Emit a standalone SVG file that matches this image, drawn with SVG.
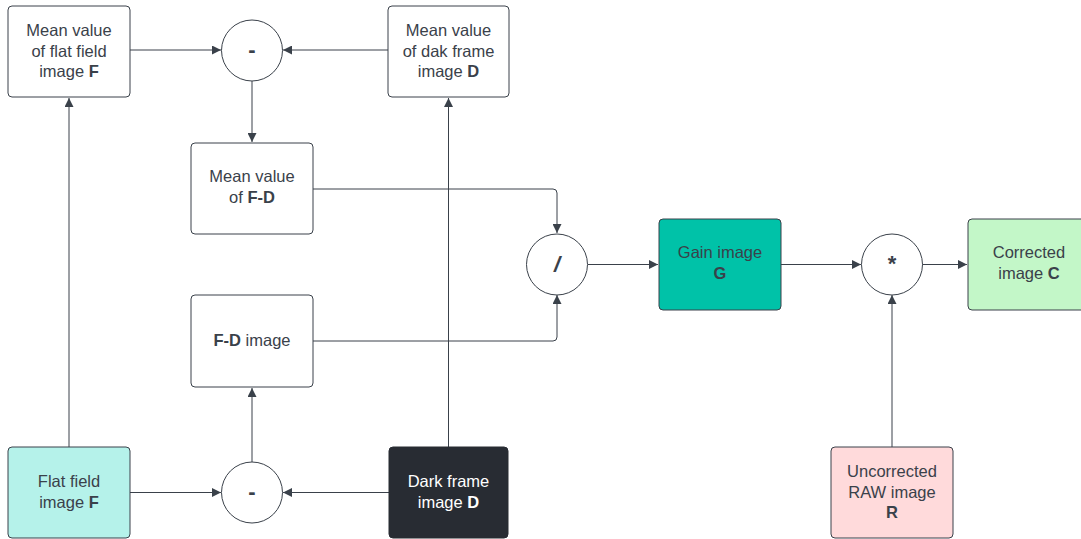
<svg xmlns="http://www.w3.org/2000/svg" width="1081" height="539" viewBox="0 0 1081 539">
<style>
.box{stroke:#3a414a;stroke-width:1;fill:#ffffff}
.op{stroke:#3a414a;stroke-width:1;fill:#ffffff}
.t{font-family:"Liberation Sans",Arial,sans-serif;font-size:16.5px;fill:#3a414a;text-anchor:middle}
.w{fill:#ffffff}
.b{font-weight:bold}
.sym{font-family:"Liberation Sans",Arial,sans-serif;font-size:22px;font-weight:bold;fill:#3a414a;text-anchor:middle}
.c{stroke:#3a414a;stroke-width:1;fill:none;marker-end:url(#ah)}
</style>
<defs>
<marker id="ah" markerUnits="userSpaceOnUse" markerWidth="10" markerHeight="9" refX="9" refY="4.5" orient="auto">
<path d="M0,0 L9,4.5 L0,9 z" fill="#3a414a"/>
</marker>
</defs>
<rect width="1081" height="539" fill="#ffffff"/>
<g id="connectors">
<path class="c" d="M130,50 H221"/>
<path class="c" d="M388,50 H283"/>
<path class="c" d="M252,81 V142"/>
<path class="c" d="M313,189 H553 Q557,189 557,193 V233"/>
<path class="c" d="M313,341 H553 Q557,341 557,337 V295"/>
<path class="c" d="M588,264.5 H658"/>
<path class="c" d="M781,264.5 H861"/>
<path class="c" d="M922,264.5 H967"/>
<path class="c" d="M892,447 V295"/>
<path class="c" d="M69,447 V98"/>
<path class="c" d="M448.5,447 V98"/>
<path class="c" d="M130,492.5 H221"/>
<path class="c" d="M389,492.5 H283"/>
<path class="c" d="M252,462 V388"/>
</g>
<g id="mean-flat">
<rect class="box" x="8" y="6" width="122" height="91" rx="4"/>
<text class="t" x="69" y="36">Mean value</text>
<text class="t" x="69" y="56.5">of flat field</text>
<text class="t" x="69" y="77">image <tspan class="b">F</tspan></text>
</g>
<g id="minus-top">
<circle class="op" cx="252" cy="50.5" r="30.5"/>
<text class="sym" x="252" y="57">-</text>
</g>
<g id="mean-dark">
<rect class="box" x="388" y="6" width="121" height="91" rx="4"/>
<text class="t" x="448.5" y="36">Mean value</text>
<text class="t" x="448.5" y="56.5">of dak frame</text>
<text class="t" x="448.5" y="77">image <tspan class="b">D</tspan></text>
</g>
<g id="mean-fd">
<rect class="box" x="191" y="143" width="122" height="91" rx="4"/>
<text class="t" x="252" y="182">Mean value</text>
<text class="t" x="252" y="202.5">of <tspan class="b">F-D</tspan></text>
</g>
<g id="fd-image">
<rect class="box" x="191" y="295" width="122" height="92" rx="4"/>
<text class="t" x="252" y="346"><tspan class="b">F-D</tspan> image</text>
</g>
<g id="divide">
<circle class="op" cx="557" cy="264.5" r="30.5"/>
<text class="sym" x="557" y="272" font-style="italic">/</text>
</g>
<g id="gain">
<rect x="659" y="219" width="122" height="91" rx="4" fill="#00c2a8" stroke="#3a414a" stroke-width="1"/>
<text class="t" x="720" y="258">Gain image</text>
<text class="t b" x="720" y="278.5">G</text>
</g>
<g id="multiply">
<circle class="op" cx="892" cy="264.5" r="30.5"/>
<text class="sym" x="892" y="270.5">*</text>
</g>
<g id="corrected">
<rect x="968" y="219" width="122" height="91" rx="4" fill="#c3f7c8" stroke="#3a414a" stroke-width="1"/>
<text class="t" x="1029" y="258">Corrected</text>
<text class="t" x="1029" y="278.5">image <tspan class="b">C</tspan></text>
</g>
<g id="flat-field">
<rect x="8" y="447" width="122" height="91" rx="4" fill="#b5f2ea" stroke="#3a414a" stroke-width="1"/>
<text class="t" x="69" y="487">Flat field</text>
<text class="t" x="69" y="507.5">image <tspan class="b">F</tspan></text>
</g>
<g id="minus-bottom">
<circle class="op" cx="252" cy="492.5" r="30.5"/>
<text class="sym" x="252" y="499">-</text>
</g>
<g id="dark-frame">
<rect x="389" y="447" width="119" height="91" rx="4" fill="#282c33" stroke="#282c33" stroke-width="1"/>
<text class="t w" x="448.5" y="487">Dark frame</text>
<text class="t w" x="448.5" y="507.5">image <tspan class="b">D</tspan></text>
</g>
<g id="uncorrected">
<rect x="831" y="447" width="122" height="91" rx="4" fill="#ffdadb" stroke="#3a414a" stroke-width="1"/>
<text class="t" x="892" y="477">Uncorrected</text>
<text class="t" x="892" y="497.5">RAW image</text>
<text class="t b" x="892" y="518">R</text>
</g>
</svg>
